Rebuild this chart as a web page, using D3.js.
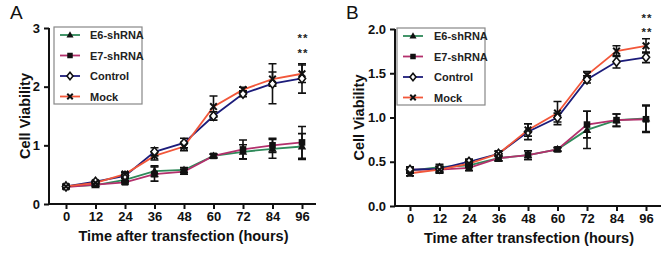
<!DOCTYPE html>
<html><head><meta charset="utf-8">
<script src="https://cdn.jsdelivr.net/npm/d3@7"></script>
<style>body{margin:0;background:#fff}svg{display:block}text{font-family:"Liberation Sans",Arial,sans-serif}</style>
</head><body><svg id="c" width="662" height="271"></svg>
<script>
const hours = [0, 12, 24, 36, 48, 60, 72, 84, 96];
const seriesNames = ["E6-shRNA", "E7-shRNA", "Control", "Mock"];
// Panel A
const aE6 = [0.30, 0.32, 0.41, 0.56, 0.58, 0.82, 0.89, 0.94, 0.98];
const aE7 = [0.29, 0.33, 0.37, 0.51, 0.55, 0.82, 0.93, 1.00, 1.05];
const aControl = [0.30, 0.38, 0.48, 0.89, 1.04, 1.50, 1.88, 2.05, 2.14];
const aMock = [0.30, 0.36, 0.51, 0.82, 0.98, 1.66, 1.95, 2.13, 2.22];
const aE6Err = [0.02, 0.02, 0.03, 0.09, 0.04, 0.03, 0.12, 0.16, 0.22];
const aE7Err = [0.02, 0.03, 0.03, 0.12, 0.04, 0.03, 0.16, 0.12, 0.27];
const aControlErr = [0.02, 0.02, 0.03, 0.07, 0.08, 0.07, 0.05, 0.34, 0.25];
const aMockErr = [0.02, 0.02, 0.03, 0.07, 0.07, 0.18, 0.04, 0.12, 0.15];
const aYTicks = [0, 1, 2, 3];
// Panel B
const bE6 = [0.40, 0.44, 0.46, 0.54, 0.575, 0.64, 0.86, 0.97, 0.99];
const bE7 = [0.41, 0.41, 0.43, 0.54, 0.575, 0.64, 0.92, 0.97, 0.98];
const bControl = [0.41, 0.42, 0.50, 0.59, 0.84, 1.00, 1.43, 1.63, 1.68];
const bMock = [0.37, 0.41, 0.48, 0.59, 0.86, 1.05, 1.48, 1.75, 1.81];
const bE6Err = [0.03, 0.03, 0.02, 0.03, 0.05, 0.02, 0.21, 0.07, 0.15];
const bE7Err = [0.03, 0.04, 0.03, 0.03, 0.05, 0.02, 0.15, 0.07, 0.15];
const bControlErr = [0.03, 0.03, 0.03, 0.03, 0.09, 0.05, 0.04, 0.07, 0.06];
const bMockErr = [0.03, 0.03, 0.03, 0.03, 0.07, 0.13, 0.04, 0.06, 0.08];
const bYTicks = [0, 0.5, 1.0, 1.5, 2.0];

const colors = ["#2f8a5a", "#b3306c", "#1c1c7a", "#f2573a"];
const markers = ["tri", "sq", "dia", "x"];

const svg = d3.select("#c");

function marker(g, type, cx, cy, s) {
  if (type === "tri") {
    g.append("path").attr("d", `M${cx},${cy-s*0.75}L${cx+s*0.7},${cy+s*0.5}L${cx-s*0.7},${cy+s*0.5}Z`).attr("fill", "#111");
  } else if (type === "sq") {
    g.append("rect").attr("x", cx-s*0.55).attr("y", cy-s*0.55).attr("width", s*1.1).attr("height", s*1.1).attr("fill", "#111");
  } else if (type === "dia") {
    g.append("path").attr("d", `M${cx},${cy-s*0.75}L${cx+s*0.6},${cy}L${cx},${cy+s*0.75}L${cx-s*0.6},${cy}Z`).attr("fill", "#fff").attr("stroke", "#111").attr("stroke-width", 1.6);
  } else {
    g.append("path").attr("d", `M${cx-s*0.55},${cy-s*0.55}L${cx+s*0.55},${cy+s*0.55}M${cx+s*0.55},${cy-s*0.55}L${cx-s*0.55},${cy+s*0.55}`).attr("stroke", "#111").attr("stroke-width", 2);
  }
}

function panel(cfg) {
  const x = d3.scaleLinear().domain([0, 96]).range([cfg.x0, cfg.x96]);
  const y = d3.scaleLinear().domain([0, cfg.ymax]).range([cfg.yb, cfg.yt]);
  const g = svg.append("g");
  // axes
  const ya = g.append("g").attr("transform", `translate(${cfg.ax},0)`)
    .call(d3.axisLeft(y).tickValues(cfg.yticks).tickFormat(cfg.fmt).tickSize(5).tickSizeOuter(0));
  ya.select(".domain").remove();
  ya.selectAll("line").attr("stroke", "#111").attr("stroke-width", 2);
  ya.selectAll("text").attr("font-size", 13).attr("font-weight", "bold").attr("fill", "#111").attr("dx", -1);
  g.append("line").attr("x1", cfg.ax).attr("x2", cfg.ax).attr("y1", y(0) + 1).attr("y2", y(cfg.ymax)).attr("stroke", "#111").attr("stroke-width", 2);
  const xa = g.append("g").attr("transform", `translate(0,${y(0)})`)
    .call(d3.axisBottom(x).tickValues(hours).tickSize(5).tickSizeOuter(0));
  xa.select(".domain").remove();
  xa.selectAll("line").attr("stroke", "#111").attr("stroke-width", 2);
  xa.selectAll("text").attr("font-size", 13).attr("font-weight", "bold").attr("fill", "#111");
  g.append("line").attr("x1", cfg.ax - 1).attr("x2", cfg.xend).attr("y1", y(0)).attr("y2", y(0)).attr("stroke", "#111").attr("stroke-width", 2);
  // titles
  g.append("text").attr("x", (cfg.ax + cfg.xend) / 2 + 1).attr("y", y(0) + 37).attr("text-anchor", "middle")
    .attr("font-size", 14.5).attr("font-weight", "bold").attr("fill", "#111").text("Time after transfection (hours)");
  g.append("text").attr("transform", `translate(${cfg.ytx},${(y(0) + y(cfg.ymax)) / 2}) rotate(-90)`).attr("text-anchor", "middle")
    .attr("font-size", 14.5).attr("font-weight", "bold").attr("fill", "#111").text("Cell Viability");
  g.append("text").attr("x", cfg.lx).attr("y", 19).attr("font-size", 19).attr("fill", "#111").text(cfg.label);
  // stars
  [cfg.st1, cfg.st2].forEach(b => {
    g.append("text").attr("x", x(96) + 1).attr("y", b).attr("text-anchor", "middle")
      .attr("font-family", "DejaVu Sans").attr("font-size", 11.5).attr("font-weight", "bold").attr("fill", "#222").attr("letter-spacing", 1).text("**");
  });
  // lines
  const line = d3.line().x((d, i) => x(hours[i])).y(d => y(d));
  cfg.series.forEach((s, k) => {
    g.append("path").attr("d", line(s)).attr("fill", "none").attr("stroke", colors[k]).attr("stroke-width", 1.8);
  });
  // error bars
  cfg.series.forEach((s, k) => {
    s.forEach((v, i) => {
      const e = cfg.errs[k][i];
      const cx = x(hours[i]);
      g.append("path").attr("d", `M${cx},${y(v - e)}V${y(v + e)}M${cx-4},${y(v + e)}H${cx+4}M${cx-4},${y(v - e)}H${cx+4}`)
        .attr("stroke", "#111").attr("stroke-width", 1.6).attr("fill", "none");
    });
  });
  cfg.series.forEach((s, k) => {
    s.forEach((v, i) => marker(g, markers[k], x(hours[i]), y(v), 6));
  });
  // legend
  const L = g.append("g");
  L.append("rect").attr("x", cfg.lgx).attr("y", cfg.lgy).attr("width", 88).attr("height", 77).attr("fill", "#fff").attr("stroke", "#888").attr("stroke-width", 1.2);
  seriesNames.forEach((n, k) => {
    const yy = cfg.lgy + 8 + k * 20.5;
    L.append("line").attr("x1", cfg.lgx + 6).attr("x2", cfg.lgx + 26).attr("y1", yy).attr("y2", yy).attr("stroke", colors[k]).attr("stroke-width", 1.8);
    marker(L, markers[k], cfg.lgx + 16, yy, 5);
    L.append("text").attr("x", cfg.lgx + cfg.ltx).attr("y", yy + 4).attr("font-size", 11).attr("font-weight", "bold").attr("fill", "#222").text(n);
  });
}

panel({label: "A", lx: 10, ax: 49, x0: 66, x96: 302, xend: 316, yb: 204, yt: 28, ymax: 3, yticks: aYTicks, fmt: d3.format("d"),
  ytx: 30, series: [aE6, aE7, aControl, aMock], errs: [aE6Err, aE7Err, aControlErr, aMockErr], lgx: 54, lgy: 27, ltx: 36, st1: 42, st2: 57});
panel({label: "B", lx: 346, ax: 395, x0: 410, x96: 646, xend: 661, yb: 206, yt: 29, ymax: 2, yticks: bYTicks, fmt: d3.format(".1f"),
  ytx: 364, series: [bE6, bE7, bControl, bMock], errs: [bE6Err, bE7Err, bControlErr, bMockErr], lgx: 397, lgy: 28, ltx: 37, st1: 22, st2: 36});
</script></body></html>
